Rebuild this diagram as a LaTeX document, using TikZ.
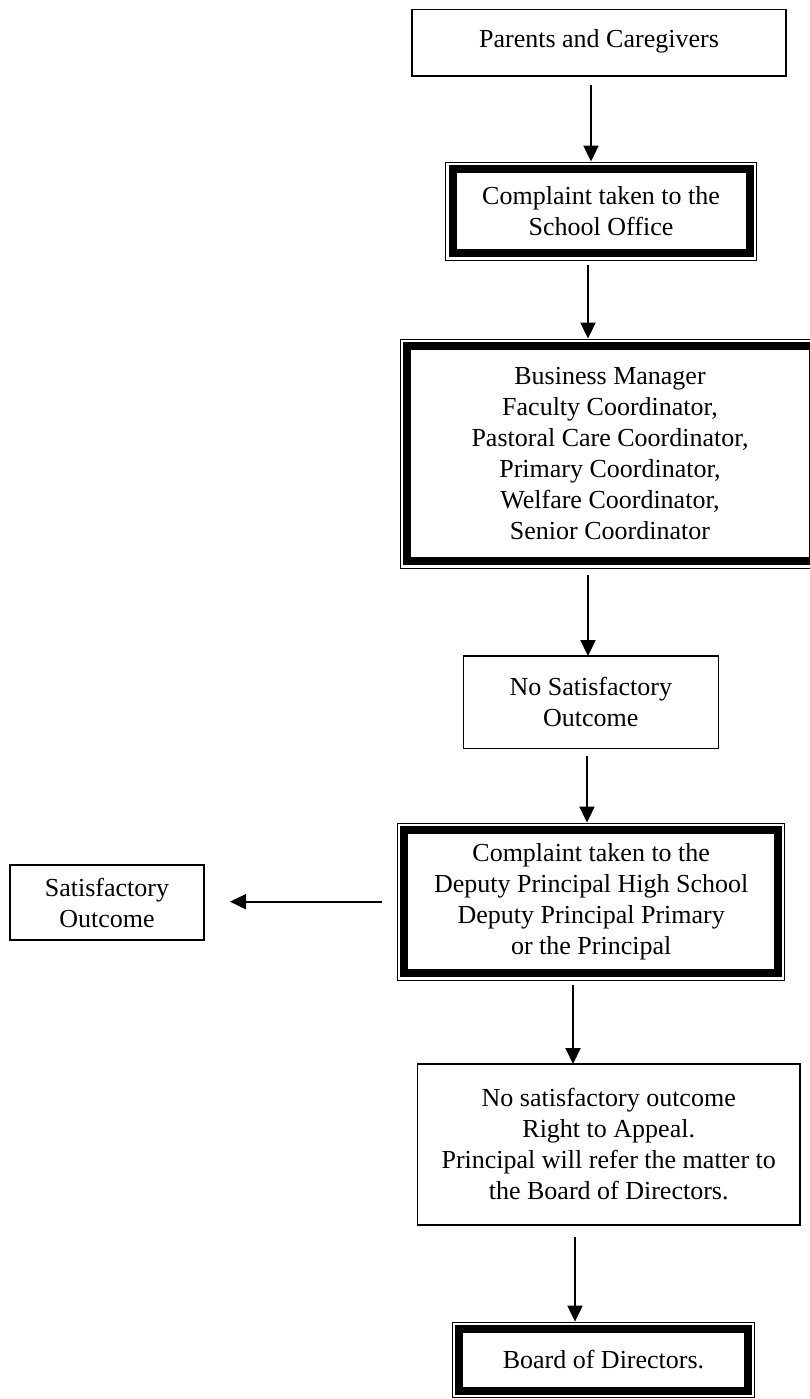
\documentclass[tikz,border=0pt]{standalone}
\usepackage{fontspec}
\setmainfont{Liberation Serif}
\usetikzlibrary{calc, arrows.meta}

\begin{document}
\begin{tikzpicture}[x=1pt, y=1pt,
    box/.style={rectangle, draw, line width=1.4pt, outer sep=0pt, inner sep=0pt,
      align=center, font=\fontsize{26pt}{31pt}\selectfont},
    twoframe/.style={box, line width=8pt},
    flow/.style={line width=2pt, -{Triangle[width=15pt,length=16pt]}}]

  \useasboundingbox (0,0) rectangle (809,-1399);

  \node[box, minimum width=374pt, minimum height=66.7pt, text depth=9pt] (P) at (599,-42.7) {Parents and Caregivers};
  \node[twoframe, minimum width=297pt, minimum height=84.5pt] (office) at (601,-211.2) {Complaint taken to the\\School Office};
  \node[twoframe, minimum width=406pt, minimum height=215.5pt] (coord) at (610,-453.7) {Business Manager\\Faculty Coordinator,\\Pastoral Care Coordinator,\\Primary Coordinator,\\Welfare Coordinator,\\Senior Coordinator};
  \node[box, minimum width=255pt, minimum height=92.3pt] (noout) at (590.8,-702.2) {No Satisfactory\\Outcome};
  \node[twoframe, minimum width=373.5pt, minimum height=143.5pt] (deputy) at (591.2,-901.7) {Complaint taken to the\\Deputy Principal High School\\Deputy Principal Primary\\or the Principal};
  \node[box, minimum width=194pt, minimum height=75pt] (satis) at (107,-902.5) {Satisfactory\\Outcome};
  \node[box, minimum width=382.7pt, minimum height=161pt] (appeal) at (608.7,-1144.5) {No satisfactory outcome\\Right to Appeal.\\Principal will refer the matter to\\the Board of Directors.};
  \node[twoframe, minimum width=289pt, minimum height=62pt] (board) at (603.5,-1360) {Board of Directors.};

  % thin outer line of the double frames
  \foreach \n in {office, coord, deputy, board}
    \draw[line width=1.3pt] ([shift={(-6.7,6.7)}]\n.north west) rectangle ([shift={(6.7,-6.7)}]\n.south east);

  \draw[flow] let \p1 = (P.south), \p2 = (office.north) in (591pt,\y1-9pt) -- (591pt,\y2+7.4pt);
  \draw[flow] let \p1 = (office.south), \p2 = (coord.north) in (588pt,\y1-12pt) -- (588pt,\y2+7.4pt);
  \draw[flow] let \p1 = (coord.south), \p2 = (noout.north) in (588pt,\y1-14pt) -- (588pt,\y2);
  \draw[flow] let \p1 = (noout.south), \p2 = (deputy.north) in (587pt,\y1-8pt) -- (587pt,\y2+7.4pt);
  \draw[flow] let \p1 = (deputy.west), \p2 = (satis.east) in (\x1-22pt,\y1) -- (\x2+26pt,\y1);
  \draw[flow] let \p1 = (deputy.south), \p2 = (appeal.north) in (573pt,\y1-12pt) -- (573pt,\y2);
  \draw[flow] let \p1 = (appeal.south), \p2 = (board.north) in (575pt,\y1-12pt) -- (575pt,\y2+7.4pt);
\end{tikzpicture}
\end{document}
